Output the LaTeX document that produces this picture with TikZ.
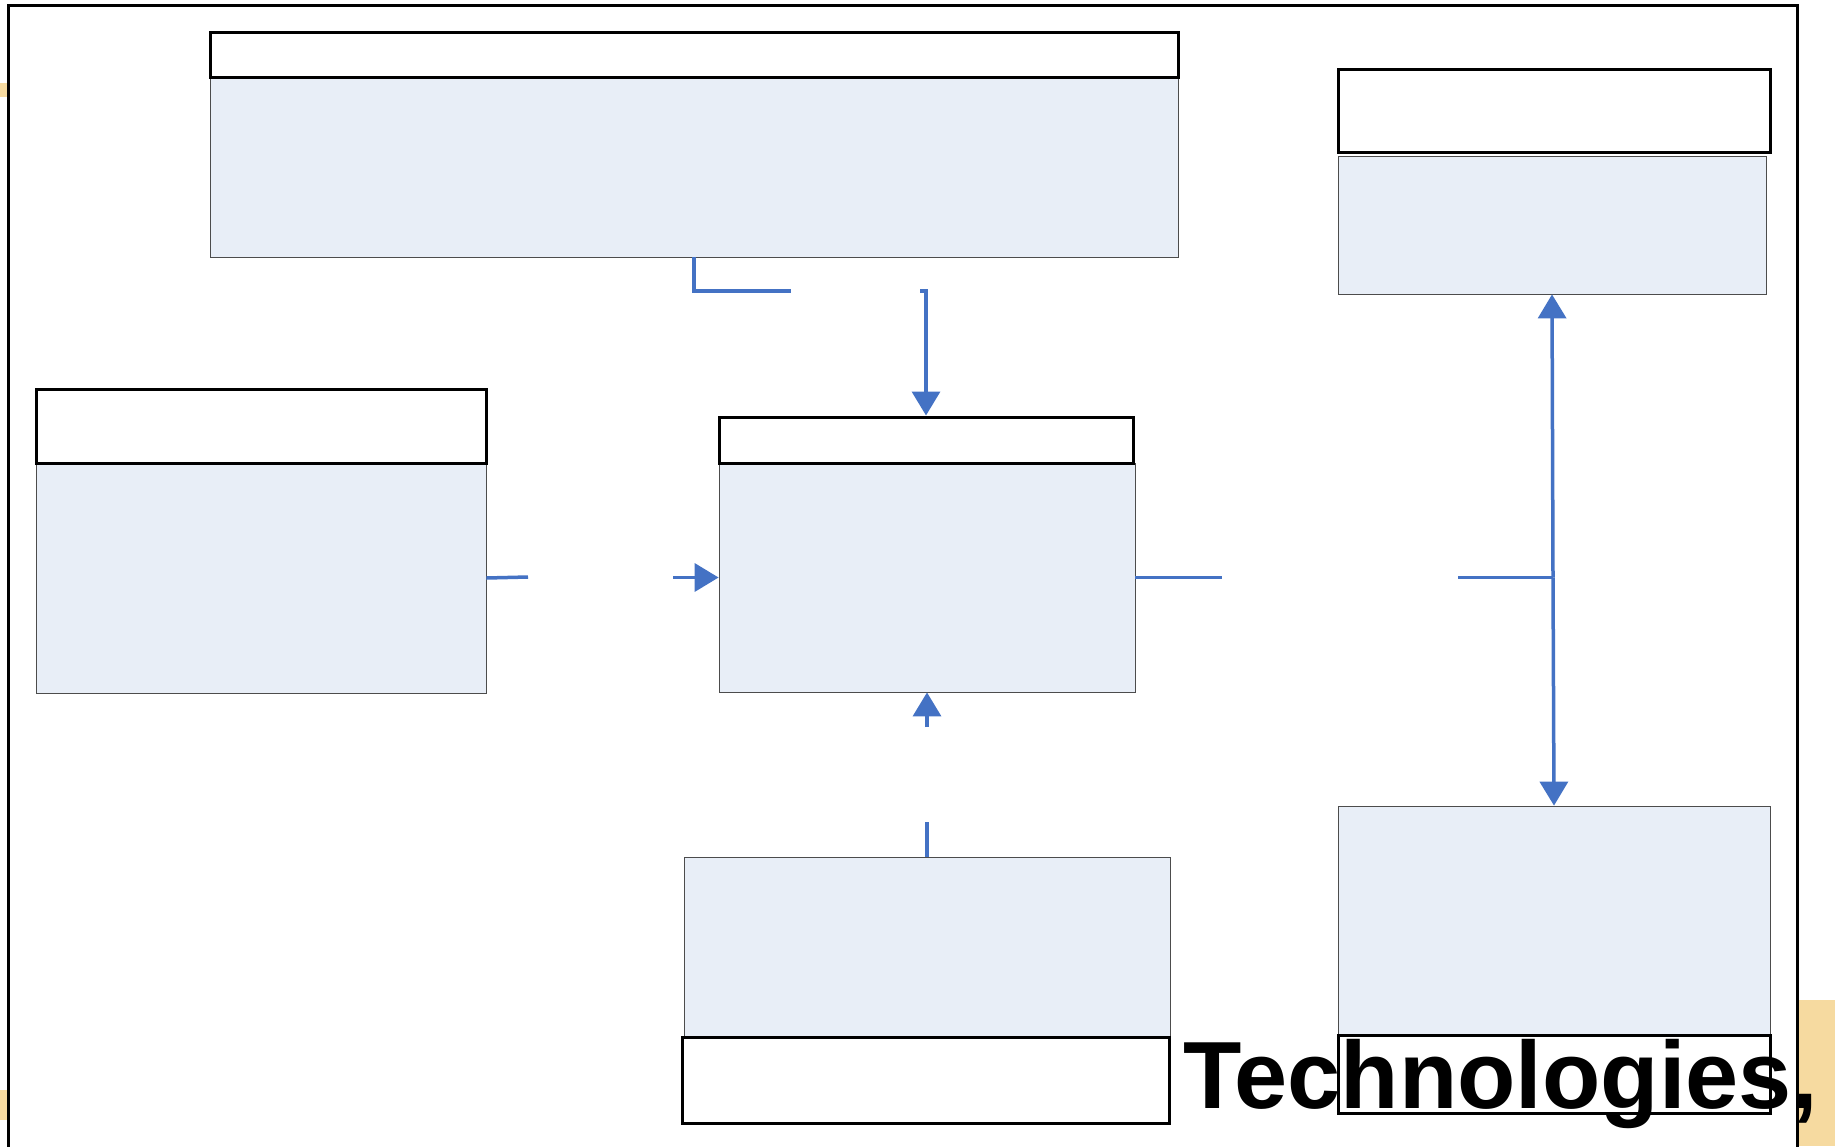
\documentclass[tikz,border=0pt]{standalone}
\usepackage{fontspec}
\newfontfamily\headfont{Liberation Sans}
\usetikzlibrary{arrows.meta}
\definecolor{bodyblue}{RGB}{232,238,247}
\definecolor{linkblue}{RGB}{68,114,196}
\definecolor{slideorange}{RGB}{246,218,160}
\tikzset{
  headbox/.style={draw=black,line width=3pt,fill=white,inner sep=0pt},
  bodybox/.style={draw=black!70,line width=0.8pt,fill=bodyblue,inner sep=0pt},
  link/.style={draw=linkblue,line width=3.5pt},
  linkarrow/.style={link,-{Triangle[length=24pt,width=28pt]}}
}
\begin{document}
\begin{tikzpicture}[x=1pt,y=-1pt]
\useasboundingbox (0,0) rectangle (1835,1146);
% Slide background pieces
\fill[slideorange] (1797,1000) rectangle (1835,1146);
\fill[slideorange] (0,83) rectangle (8,97);
\fill[slideorange] (0,1090) rectangle (8,1120);
% Frame
\draw[black,line width=3pt,fill=white] (8,5) rectangle (1797,1170);
% Bodies (light blue)
\node[bodybox,minimum width=968,minimum height=180] (topbody) at (694,167) {};
\node[bodybox,minimum width=428,minimum height=138] (trbody) at (1552,225) {};
\node[bodybox,minimum width=450,minimum height=230] (lbody) at (261,578) {};
\node[bodybox,minimum width=416,minimum height=229] (cbody) at (927,577.5) {};
\node[bodybox,minimum width=486,minimum height=180] (bbody) at (927,947) {};
\node[bodybox,minimum width=432,minimum height=229] (brbody) at (1554,920.5) {};
% Headers (white)
\node[headbox,minimum width=968,minimum height=45] (tophead) at (694,54.5) {};
\node[headbox,minimum width=432,minimum height=83] (trhead) at (1554,110.5) {};
\node[headbox,minimum width=450,minimum height=74] (lhead) at (261,426) {};
\node[headbox,minimum width=414,minimum height=46] (chead) at (926,440) {};
\node[headbox,minimum width=487,minimum height=86] (bhead) at (925.5,1080) {};
\node[headbox,minimum width=432,minimum height=78] (brhead) at (1554,1074) {};
% Connector ends
\coordinate (tgap) at (791,291);
\coordinate (tin) at (920,291);
\coordinate (lout) at (528,577);
\coordinate (lin) at (673,577.5);
\coordinate (rout) at (1222,577.5);
\coordinate (rin) at (1458,577.5);
\coordinate (rjoin) at (1553,577.5);
\coordinate (bgap) at (927,822);
\coordinate (bin) at (927,727);
% Connectors
\draw[link] (topbody.south) |- (tgap);
\draw[linkarrow] (tin) -| (chead.north);
\draw[link] (lbody.east) -- (lout);
\draw[linkarrow] (lin) -- (cbody.west);
\draw[link] (cbody.east) -- (rout);
\draw[link] (rin) -- (rjoin);
\draw[linkarrow] (rjoin) -- (trbody.south);
\draw[linkarrow] (rjoin) -- (brbody.north);
\draw[link] (bbody.north) -- (bgap);
\draw[linkarrow] (bin) -- (cbody.south);
% Title text
\node[anchor=base west,inner sep=0pt,font=\headfont\bfseries\fontsize{95.5}{100}\selectfont] (tech) at (1183,1108) {Technologies,};
\end{tikzpicture}
\end{document}
